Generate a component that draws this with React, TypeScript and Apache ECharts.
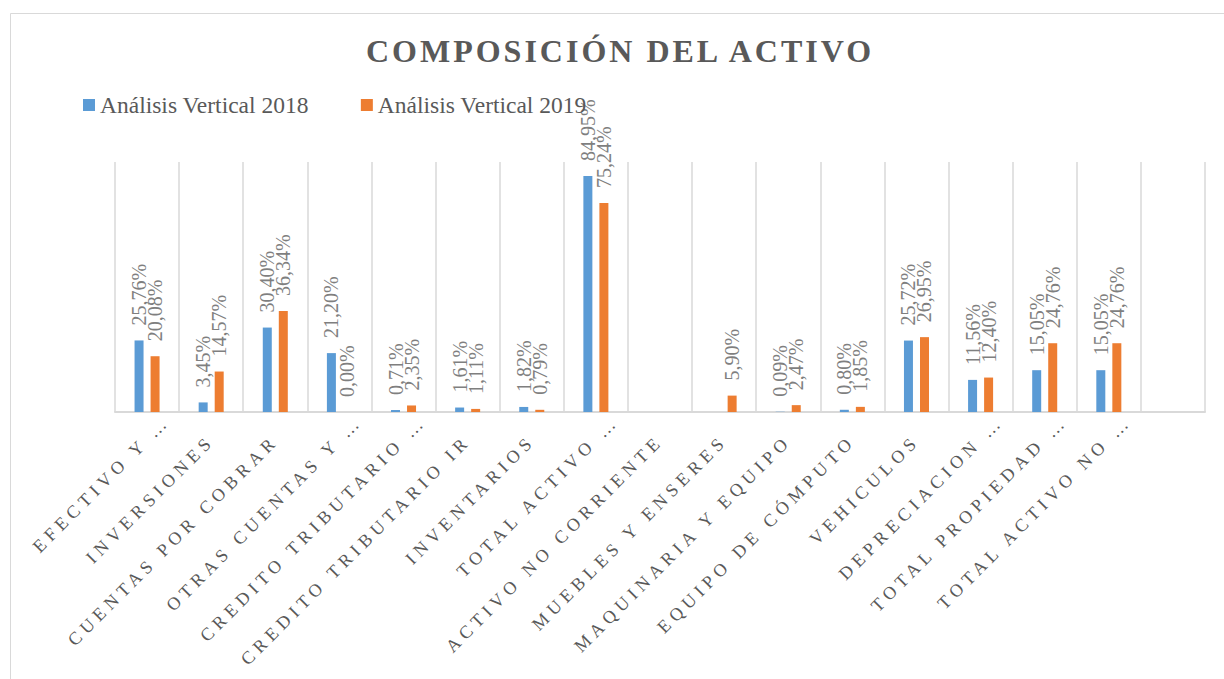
import React, { useEffect, useRef } from 'react';
import * as echarts from 'echarts';

const TITLE = 'COMPOSICIÓN DEL ACTIVO';

const categories = [
  'EFECTIVO Y …',
  'INVERSIONES',
  'CUENTAS POR COBRAR',
  'OTRAS CUENTAS Y …',
  'CREDITO TRIBUTARIO …',
  'CREDITO TRIBUTARIO IR',
  'INVENTARIOS',
  'TOTAL ACTIVO …',
  'ACTIVO NO CORRIENTE',
  'MUEBLES Y ENSERES',
  'MAQUINARIA Y EQUIPO',
  'EQUIPO DE CÓMPUTO',
  'VEHICULOS',
  'DEPRECIACION …',
  'TOTAL PROPIEDAD …',
  'TOTAL ACTIVO NO …',
  '',
];

const seriesNames = ['Análisis Vertical 2018', 'Análisis Vertical 2019'];

const values2018: (number | null)[] = [
  25.76, 3.45, 30.4, 21.2, 0.71, 1.61, 1.82, 84.95, null, null, 0.09, 0.8, 25.72, 11.56, 15.05, 15.05, null,
];

const values2019: (number | null)[] = [
  20.08, 14.57, 36.34, 0.0, 2.35, 1.11, 0.79, 75.24, null, 5.9, 2.47, 1.85, 26.95, 12.4, 24.76, 24.76, null,
];

const colors = ['#5B9BD5', '#ED7D31'];

const SERIF = 'Liberation Serif';

const fmt = (p: any) =>
  p.value == null ? '' : Number(p.value).toFixed(2).replace('.', ',') + '%';

export default function App() {
  const ref = useRef<HTMLDivElement>(null);

  useEffect(() => {
    const el = ref.current;
    if (!el) return;
    const chart = echarts.init(el, null, { renderer: 'svg' });

    const barLabel = {
      show: true,
      position: 'top',
      distance: 15,
      rotate: 90,
      align: 'left',
      verticalAlign: 'middle',
      fontSize: 20,
      color: '#7f7f7f',
      fontFamily: SERIF,
      formatter: fmt,
    };

    const option: any = {
      animation: false,
      backgroundColor: '#ffffff',
      color: colors,
      textStyle: { fontFamily: SERIF },
      graphic: [
        {
          type: 'rect',
          silent: true,
          z: -10,
          shape: { x: 10.5, y: 13.5, width: 1400, height: 900 },
          style: { fill: 'none', stroke: '#d9d9d9', lineWidth: 1 },
        },
        {
          type: 'text',
          x: 620,
          y: 51,
          style: {
            text: TITLE,
            fontSize: 32,
            fontWeight: 'bold',
            fontFamily: SERIF,
            fill: '#595959',
            align: 'center',
            verticalAlign: 'middle',
          },
        },
      ],
      legend: {
        left: 83,
        top: 93,
        padding: 0,
        itemWidth: 12,
        itemHeight: 12,
        itemGap: 52,
        icon: 'rect',
        textStyle: { fontSize: 23.5, color: '#595959', fontFamily: SERIF },
        data: seriesNames,
      },
      grid: { left: 115, right: 19, top: 162, bottom: 267, containLabel: false },
      xAxis: {
        type: 'category',
        data: categories,
        boundaryGap: true,
        axisLine: { show: true, lineStyle: { color: '#d9d9d9', width: 2 } },
        axisTick: { show: false },
        splitLine: { show: true, lineStyle: { color: '#d9d9d9', width: 1.5 } },
        axisLabel: {
          interval: 0,
          rotate: 45,
          margin: 26,
          fontSize: 18,
          color: '#595959',
          fontFamily: SERIF,
        },
      },
      yAxis: {
        type: 'value',
        min: 0,
        max: 90,
        show: false,
        splitLine: { show: false },
      },
      series: [
        {
          name: seriesNames[0],
          type: 'bar',
          data: values2018,
          barWidth: 9,
          barGap: '78%',
          label: barLabel,
        },
        {
          name: seriesNames[1],
          type: 'bar',
          data: values2019,
          barWidth: 9,
          barGap: '78%',
          label: barLabel,
        },
      ],
    };

    const applySpacing = () => {
      const svg = el.querySelector('svg');
      if (!svg) return;
      svg.querySelectorAll('text').forEach((t) => {
        const s = t.textContent || '';
        if (s === TITLE) {
          (t as any).style.letterSpacing = '3px';
        } else if (s && categories.includes(s)) {
          (t as any).style.letterSpacing = '5px';
          if (s.indexOf('…') >= 0) {
            t.setAttribute('dx', '28');
          }
        }
      });
    };

    chart.on('finished', applySpacing);
    chart.setOption(option);
    applySpacing();

    return () => {
      chart.dispose();
    };
  }, []);

  return (
    <div
      ref={ref}
      style={{ position: 'absolute', left: 0, top: 0, width: 1224, height: 679, background: '#fff' }}
    />
  );
}
